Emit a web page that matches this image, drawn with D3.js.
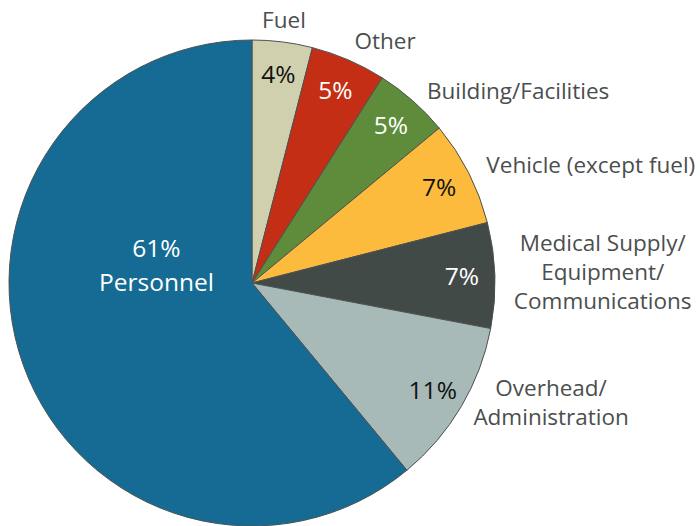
<!DOCTYPE html>
<html lang="en">
<head>
  <meta charset="UTF-8">
  <title>Budget share by category</title>
  <script src="https://d3js.org/d3.v7.min.js"></script>
  <style>
    body { margin: 0; background: #fff; }
    svg { display: block; font-family: "Open Sans", sans-serif; }
  </style>
</head>
<body>
<svg width="700" height="526"></svg>

<script>
  // data, clockwise from 12 o'clock
  const categories = ["Fuel", "Other", "Building/Facilities", "Vehicle (except fuel)",
                      "Medical Supply/ Equipment/ Communications", "Overhead/ Administration", "Personnel"];
  const shares = [4, 5, 5, 7, 7, 11, 61];
  const labelLines = [["Fuel"], ["Other"], ["Building/Facilities"], ["Vehicle (except fuel)"],
                      ["Medical Supply/", "Equipment/", "Communications"],
                      ["Overhead/", "Administration"], []];
  const colors = ["#d0d0ae", "#c42e14", "#5e8c3a", "#fdbb3e", "#424a48", "#a7bab7", "#156b93"];
  const pctColors = ["#111", "#fff", "#fff", "#111", "#fff", "#111", "#fff"];

  const svg = d3.select("svg"),
        cx = 252, cy = 283, radius = 243,
        g = svg.append("g").attr("transform", `translate(${cx},${cy})`);

  const data = categories.map((c, i) => ({ name: c, value: shares[i], i }));

  const pie = d3.pie().sort(null).value(d => d.value);
  const arcs = pie(data);

  const arc = d3.arc().innerRadius(0).outerRadius(radius);
  const pctArc = d3.arc().innerRadius(210).outerRadius(210);
  const lblArc = d3.arc().innerRadius(263).outerRadius(263);

  // small nudges so the outer labels sit like the original layout
  const nudge = [[-1, -2], [-2, -1], [1, 5], [0, 1], [-1, -3], [-5, -14], [0, 0]];

  // slices
  g.selectAll("path")
    .data(arcs)
    .join("path")
      .attr("d", arc)
      .attr("fill", d => colors[d.data.i])
      .attr("stroke", "#4d5251")
      .attr("stroke-width", 1);

  // percentage labels
  g.selectAll("text.pct")
    .data(arcs.filter(d => d.data.name !== "Personnel"))
    .join("text")
      .attr("class", "pct")
      .attr("transform", d => `translate(${pctArc.centroid(d)})`)
      .attr("text-anchor", "middle")
      .attr("dy", "0.36em")
      .attr("font-size", 24.5)
      .attr("fill", d => pctColors[d.data.i])
      .text(d => d.data.value + "%");

  // Personnel label sits inside the big slice
  const big = arcs[arcs.length - 1];
  const bigPos = [97 * Math.sin(Math.PI * 280 / 180), -97 * Math.cos(Math.PI * 280 / 180) - 5];
  const bigText = g.append("text")
    .attr("transform", `translate(${bigPos})`)
    .attr("text-anchor", "middle")
    .attr("font-size", 24.5)
    .attr("fill", "#fff");
  bigText.append("tspan").attr("x", 0).attr("dy", "-0.15em").text(big.data.value + "%");
  bigText.append("tspan").attr("x", 0).attr("dy", "1.38em").text(big.data.name);

  // category labels outside
  arcs.forEach(d => {
    const lines = labelLines[d.data.i];
    if (!lines.length) return;
    const [px, py] = lblArc.centroid(d);
    const t = g.append("text")
      .attr("text-anchor", "middle")
      .attr("font-size", 22.5)
      .attr("fill", "#4a4f4e");
    const lh = 29;
    lines.forEach((s, k) => {
      t.append("tspan")
        .attr("x", 0)
        .attr("y", (k - (lines.length - 1) / 2) * lh)
        .attr("dy", "0.36em")
        .text(s);
    });
    const w = t.node().getBBox().width;
    const shift = d.data.name === "Fuel" ? 0 : w / 2;
    const [nx, ny] = nudge[d.data.i];
    t.attr("transform", `translate(${px + shift + nx},${py + ny})`);
  });
</script>
</body>
</html>
